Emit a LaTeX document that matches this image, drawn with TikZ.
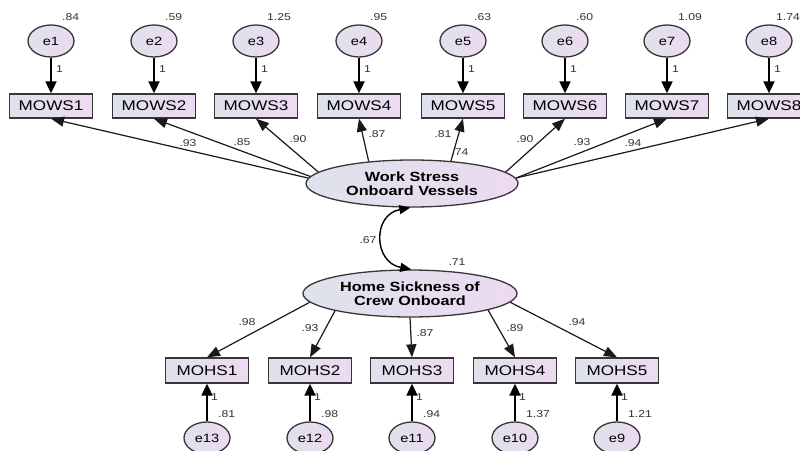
\documentclass[tikz,border=0pt]{standalone}
\usepackage{fontspec}
\setmainfont{Liberation Sans}[FakeStretch=1.22]
\usetikzlibrary{shapes.geometric,arrows.meta}
\definecolor{fillL}{RGB}{222,226,236}
\definecolor{fillR}{RGB}{237,218,241}
\definecolor{edgecol}{RGB}{55,55,55}
\tikzset{
  obsbox/.style={draw=edgecol, line width=1.3pt, left color=fillL, right color=fillR,
    minimum width=83pt, minimum height=24pt, inner sep=0pt, font=\fontsize{14}{15}\selectfont},
  errnode/.style={ellipse, draw=edgecol, line width=1.3pt, left color=fillL, right color=fillR,
    minimum width=46pt, minimum height=32pt, inner sep=0pt, font=\fontsize{12}{13}\selectfont},
  latnode/.style={ellipse, draw=edgecol, line width=1.3pt, left color=fillL, right color=fillR,
    minimum width=212pt, minimum height=47pt, inner sep=0pt, align=center,
    font=\bfseries\fontsize{13.3}{14}\selectfont},
  lbl/.style={inner sep=0pt, font=\fontsize{10}{11}\selectfont, text=black!80},
  errarrow/.style={-{Triangle[length=12pt,width=11pt]}, line width=1.9pt, draw=black},
  loadarrow/.style={-{Triangle[length=13pt,width=10pt]}, line width=1.2pt, draw=black!90},
  corrarrow/.style={{Triangle[length=11pt,width=9pt]}-{Triangle[length=11pt,width=9pt]}, line width=1.4pt},
}
\begin{document}
\begin{tikzpicture}[x=1pt,y=-1pt]
\useasboundingbox (0,0) rectangle (800,450);
% latent variables
\node[latnode] (ws) at (412,183.5) {Work Stress\\Onboard Vessels};
\node[latnode, minimum width=214pt] (hs) at (410,293.5) {Home Sickness of\\Crew Onboard};
% top indicators
\foreach \i/\x/\v/\dx in {1/51/.84/11, 2/154/.59/11, 3/256/1.25/11, 4/359/.95/11, 5/463/.63/11, 6/565/.60/11, 7/667/1.09/11, 8/769/1.74/7}{
  \node[obsbox] (mw\i) at (\x,106) {MOWS\i};
  \node[errnode] (e\i) at (\x,41) {e\i};
  \node[lbl, anchor=west] (ve\i) at (\x+\dx,17) {\v};
  \node[lbl, anchor=west] (one\i) at (\x+5,69) {1};
  \draw[errarrow] (e\i) -- (mw\i);
}
% bottom indicators
\foreach \i/\x/\e/\v in {1/207/13/.81, 2/310/12/.98, 3/412/11/.94, 4/515/10/1.37, 5/617/9/1.21}{
  \node[obsbox, minimum height=25pt] (mh\i) at (\x,370.5) {MOHS\i};
  \node[errnode] (e\e) at (\x,438) {e\e};
  \node[lbl, anchor=west] (ve\e) at (\x+11,414) {\v};
  \node[lbl, anchor=west] (oneb\i) at (\x+4,397) {1};
  \draw[errarrow] (e\e) -- (mh\i);
}
% loadings of Work Stress
\draw[loadarrow] (ws.177) -- (mw1.south);
\draw[loadarrow] (ws.176) -- (mw2.south);
\draw[loadarrow] (ws.173) -- (mw3.south);
\draw[loadarrow] (ws.153) -- (mw4.south);
\draw[loadarrow] (ws.30) -- (mw5.south);
\draw[loadarrow] (ws.7) -- (mw6.south);
\draw[loadarrow] (ws.3.5) -- (mw7.south);
\draw[loadarrow] (ws.3) -- (mw8.south);
\node[lbl] (l1) at (188,143) {.93};
\node[lbl] (l2) at (242,142) {.85};
\node[lbl] (l3) at (298,139) {.90};
\node[lbl] (l4) at (377,134) {.87};
\node[lbl] (l5) at (443,134) {.81};
\node[lbl] (l5b) at (460,152) {.74};
\node[lbl] (l6) at (525,139) {.90};
\node[lbl] (l7) at (582,142) {.93};
\node[lbl] (l8) at (633,143) {.94};
% loadings of Home Sickness
\draw[loadarrow] (hs.185) -- (mh1.north);
\draw[loadarrow] (hs.193.5) -- (mh2.north);
\draw[loadarrow] (hs.270) -- (mh3.north);
\draw[loadarrow] (hs.348) -- (mh4.north);
\draw[loadarrow] (hs.355) -- (mh5.north);
\node[lbl] (b1) at (247,322) {.98};
\node[lbl] (b2) at (310,328) {.93};
\node[lbl] (b3) at (425,333) {.87};
\node[lbl] (b4) at (515,328) {.89};
\node[lbl] (b5) at (577,322) {.94};
% correlation
\draw[corrarrow] (ws.266) .. controls +(-38,7) and +(-38,-7) .. (hs.87);
\node[lbl] (c1) at (368,240) {.67};
\node[lbl] (c2) at (457,262) {.71};
\end{tikzpicture}
\end{document}
